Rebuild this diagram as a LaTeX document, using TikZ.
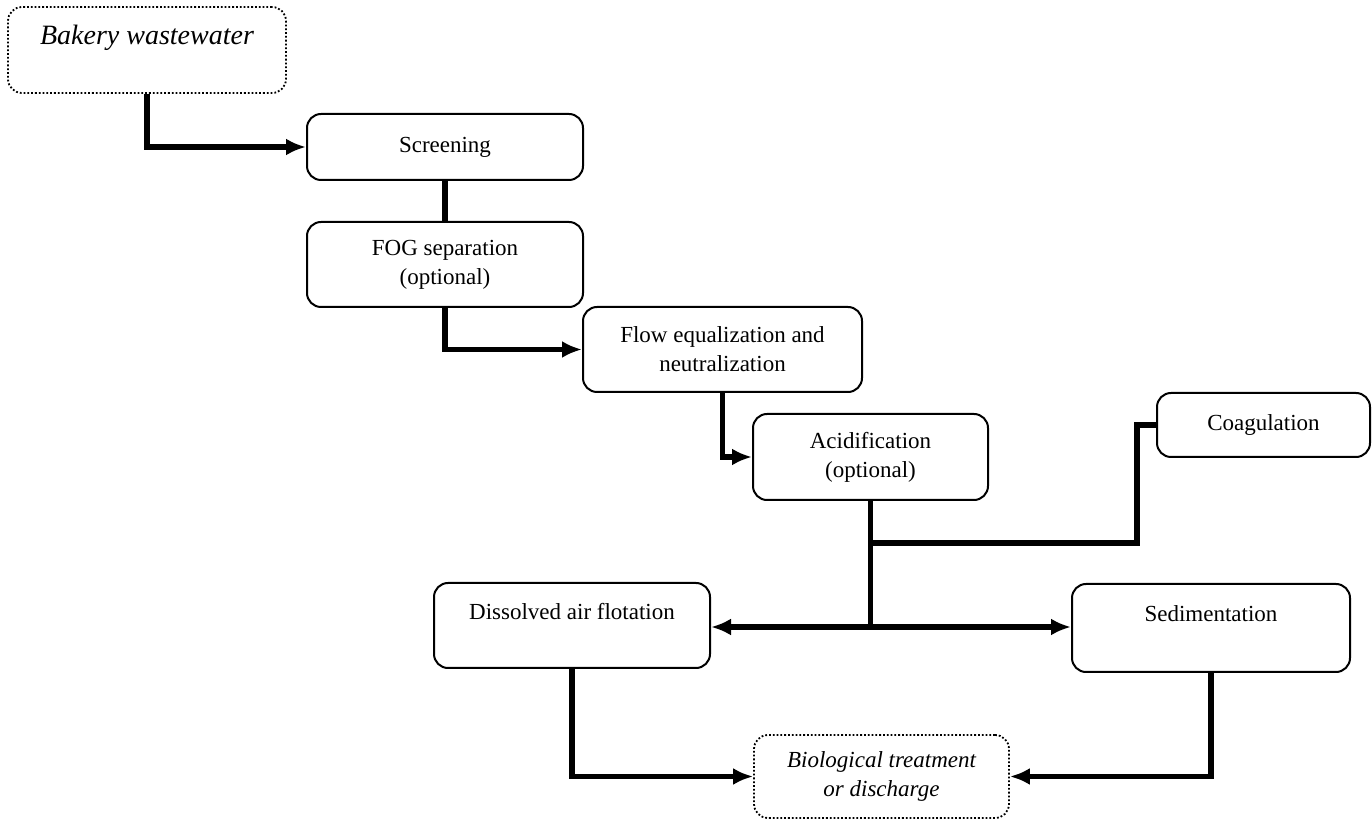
\documentclass[tikz,border=0pt]{standalone}
\usepackage{fontspec}
\setmainfont{Liberation Serif}
\usetikzlibrary{arrows.meta}

\tikzset{
	stage/.style = {draw, rounded corners = 7pt, line width = 1pt, align = center,
		inner sep = 0pt, font = \fontsize{11.5}{14.5}\selectfont},
	endpoint/.style = {stage, line width = 0.9pt, dash pattern = on 0.9pt off 1pt,
		font = \fontsize{11.5}{14.5}\selectfont\itshape},
	link/.style = {line width = 2.7pt},
	feed/.style = {link, -{Latex[length = 10pt, width = 8.5pt]}}
}

\begin{document}
\begin{tikzpicture}[x = 0.5pt, y = -0.5pt]
	\useasboundingbox (0, 0) rectangle (1372, 823);
	
	\node[endpoint, minimum width = 139pt, minimum height = 43pt,
		font = \fontsize{14}{15}\selectfont\itshape] (waste) at (147, 50) {Bakery wastewater\\\mbox{}};
	
	\node[stage, minimum width = 138pt, minimum height = 33pt] (screen) at (445, 147) {Screening};
	\node[stage, minimum width = 138pt, minimum height = 42.5pt] (fog) at (445, 264.5) {FOG separation\\(optional)};
	\node[stage, minimum width = 139.5pt, minimum height = 42.5pt] (equal) at (722.5, 349.5) {Flow equalization and\\neutralization};
	\node[stage, minimum width = 117.5pt, minimum height = 43pt] (acid) at (870.5, 457) {Acidification\\(optional)};
	\node[stage, minimum width = 106.5pt, minimum height = 32pt] (coag) at (1263.5, 425) {Coagulation};
	\node[stage, minimum width = 138pt, minimum height = 42.5pt] (daf) at (572, 625.5) {Dissolved air flotation\\\mbox{}};
	\node[stage, minimum width = 139pt, minimum height = 44pt] (sed) at (1211, 628) {Sedimentation\\\mbox{}};
	
	\node[endpoint, minimum width = 127.5pt, minimum height = 41.5pt] (bio) at (881.5, 776.5) {Biological treatment\\or discharge};
	
	\coordinate (split) at (870.5, 627);
	\coordinate (bend) at (1137, 543);
	
	\draw[feed] (waste.south) |- (screen.west);
	\draw[link] (screen.south) -- (fog.north);
	\draw[feed] (fog.south) |- (equal.west);
	\draw[feed] (equal.south) |- (acid.west);
	
	\draw[link] (acid.south) -- (split);
	\draw[link] (coag.west) -| (bend) -- (bend -| acid.south);
	\draw[feed] (split) -- (daf.east |- split);
	\draw[feed] (split) -- (sed.west |- split);
	
	\draw[feed] (daf.south) |- (bio.west);
	\draw[feed] (sed.south) |- (bio.east);
\end{tikzpicture}
\end{document}
